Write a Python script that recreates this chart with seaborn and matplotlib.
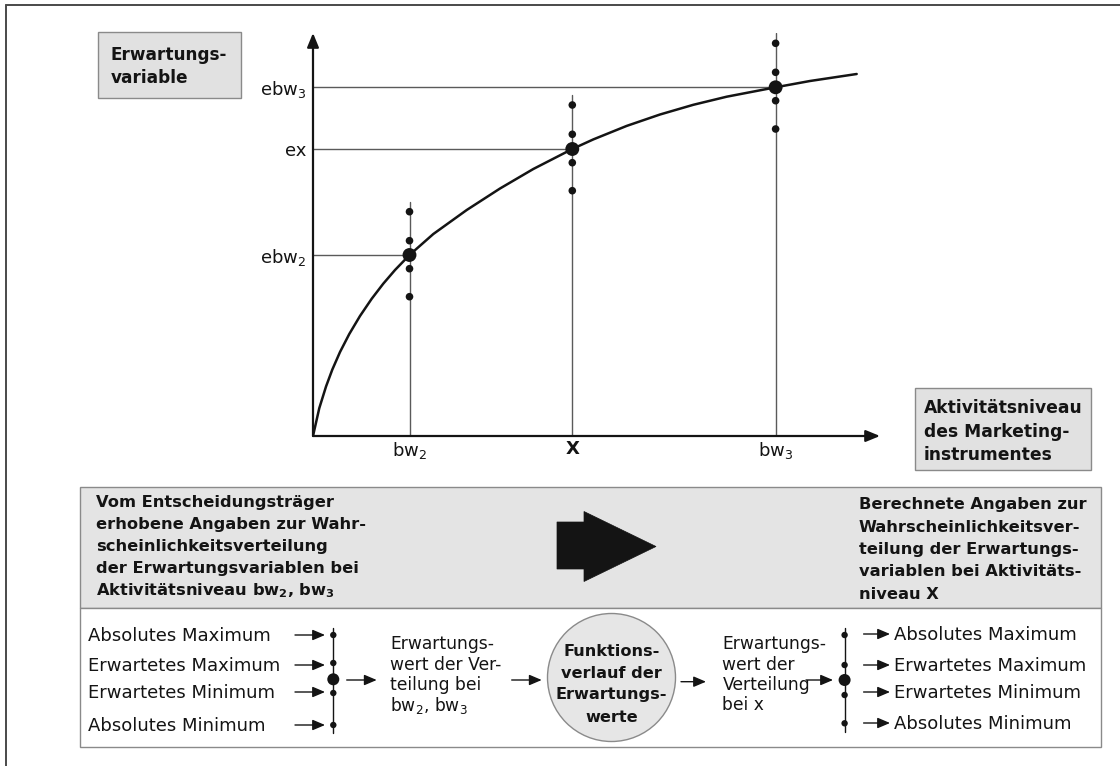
import numpy as np
import pandas as pd
import matplotlib
matplotlib.use("Agg")
import matplotlib.pyplot as plt
import seaborn as sns
from matplotlib.patches import Rectangle, Circle, Polygon

# ---------------- data (chart units) ----------------
activity_levels = [1.0, 2.687, 4.794]          # bw2, X, bw3
activity_labels = ["bw$_2$", "X", "bw$_3$"]
abs_max = [2.243, 3.31, 3.927]
exp_max = [1.953, 3.017, 3.637]
expected = [1.81, 2.87, 3.487]                 # ebw2, ex, ebw3
exp_min = [1.673, 2.733, 3.353]
abs_min = [1.393, 2.453, 3.07]
expected_labels = ["ebw$_2$", "ex", "ebw$_3$"]

curve_x = [0, 0.065, 0.135, 0.2, 0.28, 0.376, 0.487, 0.608, 0.728, 0.85, 1.0,
           1.247, 1.593, 1.938, 2.283, 2.687, 2.905, 3.251, 3.596, 3.941,
           4.287, 4.794, 5.15, 5.634]
curve_y = [0, 0.278, 0.495, 0.664, 0.84, 1.02, 1.20, 1.372, 1.523, 1.66, 1.81,
           2.02, 2.26, 2.475, 2.67, 2.87, 2.966, 3.101, 3.215, 3.312,
           3.393, 3.487, 3.55, 3.62]

left_labels = ["Absolutes Maximum", "Erwartetes Maximum",
               "Erwartetes Minimum", "Absolutes Minimum"]
right_labels = left_labels
y_axis_title = ["Erwartungs-", "variable"]
x_axis_title = ["Aktivitätsniveau", "des Marketing-", "instrumentes"]
panel_left = ["Vom Entscheidungsträger", "erhobene Angaben zur Wahr-",
              "scheinlichkeitsverteilung", "der Erwartungsvariablen bei",
              "Aktivitätsniveau bw$_\\mathbf{2}$, bw$_\\mathbf{3}$"]
panel_right = ["Berechnete Angaben zur", "Wahrscheinlichkeitsver-",
               "teilung der Erwartungs-", "variablen bei Aktivitäts-",
               "niveau X"]
mid_left = ["Erwartungs-", "wert der Ver-", "teilung bei", "bw$_2$, bw$_3$"]
circle_text = ["Funktions-", "verlauf der", "Erwartungs-", "werte"]
mid_right = ["Erwartungs-", "wert der", "Verteilung", "bei x"]

# ---------------- style ----------------
sns.set_theme(style="white")
plt.rcParams["font.family"] = ["DejaVu Sans"]
plt.rcParams["mathtext.fontset"] = "dejavusans"

INK = "#141414"
GUIDE = "#5a5a5a"
EDGE = "#8a8a8a"
BOXFILL = "#e1e1e1"
PANEL = "#e4e4e4"
CIRCFILL = "#e6e6e6"

W, H = 1120, 766
fig = plt.figure(figsize=(11.2, 7.66), dpi=100)
fig.patch.set_facecolor("white")

bg = fig.add_axes([0, 0, 1, 1])
bg.set_xlim(0, W)
bg.set_ylim(H, 0)
bg.axis("off")

# outer frame
bg.plot([6, W], [5, 5], color="#4a4a4a", lw=1.4)
bg.plot([6, 6], [5, H], color="#4a4a4a", lw=1.4)

# ---------------- chart axes ----------------
ox, oy, xe, ye = 313, 436, 880, 33
PXX, PXY = 96.5, 100.0
ax = fig.add_axes([ox / W, (H - oy) / H, (xe - ox) / W, (oy - ye) / H])
ax.set_xlim(0, (xe - ox) / PXX)
ax.set_ylim(0, (oy - ye) / PXY)
ax.patch.set_alpha(0)
for sp in ax.spines.values():
    sp.set_visible(False)

arrow_kw = dict(arrowstyle="-|>,head_length=0.85,head_width=0.35", color=INK,
                lw=1.6, shrinkA=0, shrinkB=0, mutation_scale=10)
ax.annotate("", xy=(1, 0), xytext=(0, 0), xycoords="axes fraction",
            textcoords="axes fraction", arrowprops=arrow_kw, annotation_clip=False)
ax.annotate("", xy=(0, 1), xytext=(0, 0), xycoords="axes fraction",
            textcoords="axes fraction", arrowprops=arrow_kw, annotation_clip=False)

for xv, yv, top in zip(activity_levels, expected, abs_max):
    ax.plot([0, xv], [yv, yv], color=GUIDE, lw=1.0, zorder=1)
    ax.plot([xv, xv], [0, top + 0.1], color=GUIDE, lw=1.0, zorder=1)

sns.lineplot(x=curve_x, y=curve_y, color=INK, lw=1.8, ax=ax, zorder=3,
             sort=False, estimator=None)

small = pd.DataFrame({
    "x": activity_levels * 4,
    "y": abs_max + exp_max + exp_min + abs_min,
})
big = pd.DataFrame({"x": activity_levels, "y": expected})
sns.scatterplot(data=small, x="x", y="y", s=30, color=INK, edgecolor="none",
                ax=ax, zorder=4, legend=False)
sns.scatterplot(data=big, x="x", y="y", s=100, color=INK, edgecolor="none",
                ax=ax, zorder=5, legend=False)

ax.set_xticks(activity_levels)
ax.set_xticklabels(activity_labels)
ax.set_yticks(expected)
ax.set_yticklabels(expected_labels)
ax.set_xlabel("")
ax.set_ylabel("")
ax.tick_params(axis="both", length=0, labelsize=13, colors=INK)
ax.tick_params(axis="x", pad=3)
ax.tick_params(axis="y", pad=5)
ax.get_xticklabels()[1].set_fontweight("bold")
ax.grid(False)


# ---------------- diagram parts ----------------
def lines(x, baselines, texts, size=13, bold=False, ha="left"):
    for b, t in zip(baselines, texts):
        bg.text(x, b, t, fontsize=size, fontweight="bold" if bold else "normal",
                ha=ha, va="baseline", color=INK)


def arr(x0, x1, y, lw=1.0):
    bg.annotate("", xy=(x1, y), xytext=(x0, y),
                arrowprops=dict(arrowstyle="-|>,head_length=0.75,head_width=0.32",
                                color=INK, lw=lw, shrinkA=0, shrinkB=0,
                                mutation_scale=10))


# axis title boxes
bg.add_patch(Rectangle((98, 32), 143, 66, fc=BOXFILL, ec=EDGE, lw=1))
lines(111, [60, 83.3], y_axis_title, size=12.2, bold=True)
bg.add_patch(Rectangle((915, 388), 176, 82, fc=BOXFILL, ec=EDGE, lw=1))
lines(923.6, [413.3, 436.6, 460], x_axis_title, size=12.3, bold=True)

# grey panel + lower panel
bg.add_patch(Rectangle((80, 486.5), 1020.5, 121.5, fc=PANEL, ec=EDGE, lw=1))
bg.add_patch(Rectangle((80, 608), 1020.5, 139, fc="white", ec=EDGE, lw=1))
lines(96, [507.5 + 22 * i for i in range(5)], panel_left, size=11.7, bold=True)
lines(859, [509 + 22.5 * i for i in range(5)], panel_right, size=11.7, bold=True)
bg.add_patch(Polygon([(557, 522), (584, 522), (584, 511.5), (656, 546.5),
                      (584, 581.5), (584, 569), (557, 569)],
                     closed=True, fc=INK, ec=INK, lw=0.5))

# lower schematic
label_rows = [635, 665, 692, 725]
lines(88.3, [r + 6 for r in label_rows], left_labels, size=13)
for r in label_rows:
    arr(295, 325, r)
bg.plot([333.3, 333.3], [628, 733], color=INK, lw=1.0)
for d in [635, 663, 693, 725]:
    bg.add_patch(Circle((333.3, d), 3.2, fc=INK, ec="none"))
bg.add_patch(Circle((333.3, 679.3), 6.0, fc=INK, ec="none"))
arr(346.7, 376.7, 680)
lines(390, [649 + 20.5 * i for i in range(4)], mid_left, size=12.3)
arr(511.7, 541.7, 680)

bg.add_patch(Circle((611.5, 677.5), 64, fc=CIRCFILL, ec=EDGE, lw=1))
lines(611.7, [655.5 + 22 * i for i in range(4)], circle_text, size=11.6,
      bold=True, ha="center")
arr(681, 706, 681.7)
lines(722.5, [649 + 20.5 * i for i in range(4)], mid_right, size=12.3)
arr(806, 833, 680)

bg.plot([844.6, 844.6], [628, 731.7], color=INK, lw=1.0)
for d in [635, 665, 695, 723.3]:
    bg.add_patch(Circle((844.6, d), 3.2, fc=INK, ec="none"))
bg.add_patch(Circle((844.6, 680), 6.0, fc=INK, ec="none"))
right_rows = [634, 665, 692, 723]
for r in right_rows:
    arr(863.6, 890, r)
lines(894, [r + 6 for r in right_rows], right_labels, size=13)

fig.savefig("out.png", dpi=100, facecolor="white")
